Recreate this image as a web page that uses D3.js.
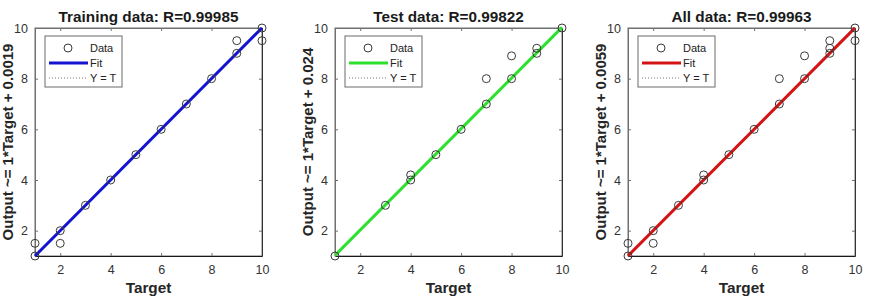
<!DOCTYPE html>
<html><head><meta charset="utf-8">
<script src="https://cdn.jsdelivr.net/npm/d3@7"></script>
<style>body{margin:0;background:#fff;} svg{display:block;}</style>
</head><body>
<svg id="c" width="879" height="306"></svg>
<script>
const titles = ["Training data: R=0.99985", "Test data: R=0.99822", "All data: R=0.99963"];
const yLabels = ["Output ~= 1*Target + 0.0019", "Output ~= 1*Target + 0.024", "Output ~= 1*Target + 0.0059"];
const fitSlopes = [1, 1, 1];
const fitOffsets = [0.0019, 0.024, 0.0059];
const fitColors = ["#1414d0", "#2ee02e", "#d41414"];
const trainTargets = [1, 1, 2, 2, 3, 4, 5, 6, 7, 8, 9, 9, 10, 10];
const trainOutputs = [1, 1.5, 2, 1.5, 3, 4, 5, 6, 7, 8, 9, 9.5, 10, 9.5];
const testTargets = [1, 3, 4, 4, 5, 6, 7, 7, 8, 8, 9, 9, 10];
const testOutputs = [1, 3, 4, 4.2, 5, 6, 7, 8, 8, 8.9, 9, 9.2, 10];
const allTargets = [1, 1, 2, 2, 3, 4, 4, 5, 6, 7, 7, 8, 8, 9, 9, 9, 10, 10];
const allOutputs = [1, 1.5, 2, 1.5, 3, 4, 4.2, 5, 6, 7, 8, 8, 8.9, 9, 9.2, 9.5, 10, 9.5];
const tickValues = [2, 4, 6, 8, 10];
const legendLabels = ["Data", "Fit", "Y = T"];

(function () {
const targetsList = [trainTargets, testTargets, allTargets];
const outputsList = [trainOutputs, testOutputs, allOutputs];
const lefts = [35, 335, 628];
const plotTop = 28, plotBottom = 256, W = 227;
const svg = d3.select("#c");
const font = "Arial, 'Liberation Sans', Helvetica, sans-serif";

for (let p = 0; p < 3; p++) {
  const L = lefts[p];
  const x = d3.scaleLinear().domain([1, 10]).range([L, L + W]);
  const y = d3.scaleLinear().domain([1, 10]).range([plotBottom, plotTop]);
  const g = svg.append("g");

  g.append("rect").attr("x", L).attr("y", plotTop).attr("width", W).attr("height", plotBottom - plotTop)
    .attr("fill", "#fff").attr("stroke", "#707070").attr("stroke-width", 1);

  const xa = g.append("g").attr("transform", `translate(0,${plotBottom})`)
    .call(d3.axisBottom(x).tickValues(tickValues).tickSizeInner(-3).tickSizeOuter(0).tickPadding(9));
  const xt = g.append("g").attr("transform", `translate(0,${plotTop})`)
    .call(d3.axisTop(x).tickValues(tickValues).tickSizeInner(-3).tickSizeOuter(0).tickFormat(""));
  const ya = g.append("g").attr("transform", `translate(${L},0)`)
    .call(d3.axisLeft(y).tickValues(tickValues).tickSizeInner(-3).tickSizeOuter(0).tickPadding(7));
  const yr = g.append("g").attr("transform", `translate(${L + W},0)`)
    .call(d3.axisRight(y).tickValues(tickValues).tickSizeInner(-3).tickSizeOuter(0).tickFormat(""));
  [xa, xt, ya, yr].forEach(a => {
    a.select(".domain").attr("stroke", "#707070");
    a.selectAll(".tick line").attr("stroke", "#707070");
    a.selectAll("text").attr("font-family", font).attr("font-size", 12.5).attr("fill", "#333");
  });
  xa.select(".domain").attr("stroke", "#1a1a1a");
  yr.select(".domain").attr("stroke", "#333");

  g.append("line").attr("x1", x(1)).attr("y1", y(1)).attr("x2", x(10)).attr("y2", y(10))
    .attr("stroke", "#777").attr("stroke-width", 1).attr("stroke-dasharray", "1,2");

  const b = fitOffsets[p], m = fitSlopes[p];
  g.append("line").attr("x1", x(1)).attr("y1", y(m * 1 + b)).attr("x2", x(10)).attr("y2", y(m * 10 + b))
    .attr("stroke", fitColors[p]).attr("stroke-width", 3);

  const pts = targetsList[p].map((t, i) => [t, outputsList[p][i]]);
  g.selectAll("circle.d").data(pts).enter().append("circle")
    .attr("cx", d => x(d[0])).attr("cy", d => y(d[1])).attr("r", 4)
    .attr("fill", "none").attr("stroke", "#3a3a3a").attr("stroke-width", 1);

  g.append("text").attr("x", L + W / 2).attr("y", 22).attr("text-anchor", "middle")
    .attr("font-family", font).attr("font-weight", "bold").attr("font-size", 15.3).attr("fill", "#1a1a1a")
    .text(titles[p]);
  g.append("text").attr("x", L + W / 2).attr("y", 293).attr("text-anchor", "middle")
    .attr("font-family", font).attr("font-weight", "bold").attr("font-size", 15.3).attr("fill", "#262626")
    .text("Target");
  g.append("text").attr("transform", `translate(${L - 22.5},${(plotTop + plotBottom) / 2}) rotate(-90)`)
    .attr("text-anchor", "middle")
    .attr("font-family", font).attr("font-weight", "bold").attr("font-size", 15).attr("fill", "#262626")
    .text(yLabels[p]);

  const lx = L + 10, ly = 36, lw = 77, lh = 51;
  const lg = g.append("g");
  lg.append("rect").attr("x", lx).attr("y", ly).attr("width", lw).attr("height", lh)
    .attr("fill", "#fff").attr("stroke", "#6a6a6a").attr("stroke-width", 1);
  lg.append("circle").attr("cx", lx + 23).attr("cy", ly + 12).attr("r", 4)
    .attr("fill", "none").attr("stroke", "#3a3a3a");
  lg.append("line").attr("x1", lx + 4).attr("x2", lx + 43).attr("y1", ly + 27).attr("y2", ly + 27)
    .attr("stroke", fitColors[p]).attr("stroke-width", 3);
  lg.append("line").attr("x1", lx + 4).attr("x2", lx + 43).attr("y1", ly + 42).attr("y2", ly + 42)
    .attr("stroke", "#777").attr("stroke-width", 1).attr("stroke-dasharray", "1,2");
  legendLabels.forEach((t, i) => {
    lg.append("text").attr("x", lx + 45).attr("y", ly + 16 + i * 15)
      .attr("font-family", font).attr("font-size", 11).attr("fill", "#222").text(t);
  });
}
})();
</script>
</body></html>
